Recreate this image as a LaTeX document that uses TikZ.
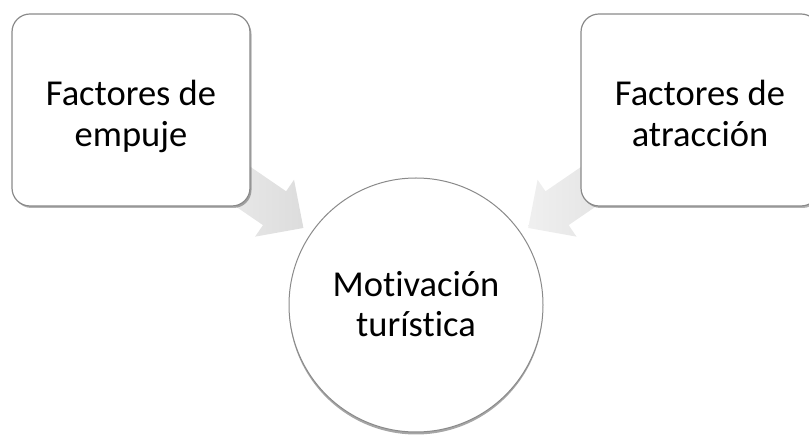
\documentclass[tikz,border=0pt]{standalone}
\usepackage{fontspec}
\setmainfont[Ligatures={NoCommon}]{Carlito}
\usetikzlibrary{calc,shadows}
\definecolor{edgegray}{HTML}{8A8A8A}
\tikzset{
  boxnode/.style={draw=edgegray, line width=1.2pt, fill=white, rounded corners=18pt,
    minimum width=238pt, minimum height=192pt, align=center, inner sep=0pt,
    font=\fontsize{36.5}{41}\selectfont, text height=83pt, text depth=9pt,
    drop shadow={shadow xshift=1.5pt, shadow yshift=-2pt, opacity=0.3, fill=black}},
  circnode/.style={draw=edgegray, line width=1pt, fill=white, circle,
    minimum size=254pt, align=center, inner sep=0pt,
    font=\fontsize{36.5}{40}\selectfont, text height=73pt, text depth=9pt,
    drop shadow={shadow xshift=0pt, shadow yshift=-2.5pt, opacity=0.35, fill=black}},
  blockarrow/.style={left color=gray!12, right color=gray!27, draw=none}
}
\begin{document}
\begin{tikzpicture}[x=1pt,y=-1pt]
\useasboundingbox (0,0) rectangle (809,435);
\clip (0,0) rectangle (809,435);
\coordinate (pushc) at (131,110);
\coordinate (pullc) at (700,110);
\coordinate (motc) at (416,305);
% arrows (behind boxes)
\coordinate (t1) at ($(pushc)!0.605!(motc)$);
\coordinate (t2) at ($(pullc)!0.605!(motc)$);
\begin{scope}[shift={(t1)}, rotate=-34.4]
  \shade[blockarrow] (0,0) -- (-35,34.5) -- (-35,20.5) -- (-135,20.5) -- (-135,-20.5) -- (-35,-20.5) -- (-35,-34.5) -- cycle;
\end{scope}
\begin{scope}[shift={(t2)}, rotate=-145.6]
  \shade[blockarrow] (0,0) -- (-35,34.5) -- (-35,20.5) -- (-135,20.5) -- (-135,-20.5) -- (-35,-20.5) -- (-35,-34.5) -- cycle;
\end{scope}
\node[boxnode] (push) at (pushc) {Factores de\\empuje};
\node[boxnode] (pull) at (pullc) {Factores de\\atracción};
\node[circnode] (mot) at (motc) {Motivación\\turística};
\end{tikzpicture}
\end{document}
